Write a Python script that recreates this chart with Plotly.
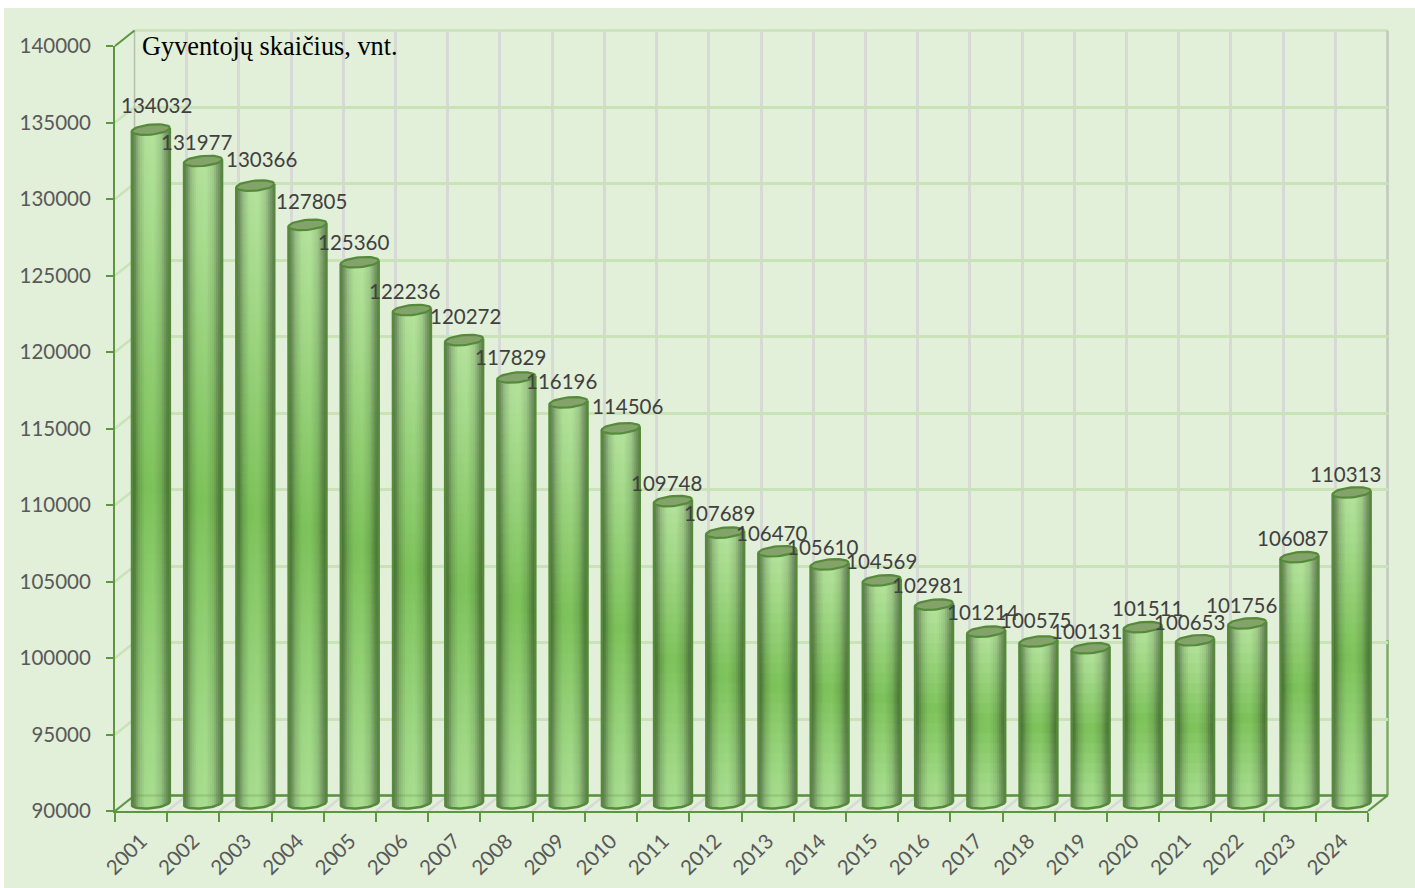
import math
import plotly.graph_objects as go

years = [str(y) for y in range(2001, 2025)]
population = [134032, 131977, 130366, 127805, 125360, 122236, 120272, 117829,
              116196, 114506, 109748, 107689, 106470, 105610, 104569, 102981,
              101214, 100575, 100131, 101511, 100653, 101756, 106087, 110313]
y_ticks = list(range(90000, 140001, 5000))
title_text = "Gyventojų skaičius, vnt."

# hand-placed label offsets from the top of each cylinder (pixels)
LABEL_DX = [6, -7, 6, 4, -6, -7, 1, -6, -7, 7, -6, -6, -6, -7, 0, -6, -4, -3, -4, 5, -6, -6, -7, -6]
LABEL_DY = [25, 19, 27, 24, 20, 19, 24, 20, 21, 22, 18, 20, 18, 17, 19, 20, 20, 21, 17, 19, 18, 18, 19, 18]

W, H = 1415, 888
X0, X1, Y_TOP, Y_BOT = 115.0, 1368.0, 46.0, 811.0     # front plane
DX, DY = 19.5, -15.5                                   # depth offset
CAT = (X1 - X0) / 24
PX_PER_VAL = (Y_BOT - Y_TOP) / 50000
BAR_W = 38.0
R = BAR_W / 2
ELL_B = 5.0
ELL_TILT = 1.7
N_STRIPS = 19
SEG_PX = 10.0

AXIS_GREEN = "#5c9640"
WALL_GREEN = "#c9e2b8"
WALL_GRAY = "#d6d9d6"
BG = "#e2efd9"


def fx(px):
    return px / W


def fy(px):
    return 1 - px / H


def mix(c1, c2, t):
    return [c1[k] + (c2[k] - c1[k]) * t for k in range(3)]


V_STOPS = [(0.0, (166, 218, 142)), (0.12, (158, 214, 132)), (0.47, (124, 192, 90)),
           (0.85, (164, 216, 138)), (1.0, (178, 224, 154))]
U_STOPS = [(-1.0, 0.56), (-0.85, 0.64), (-0.62, 0.86), (-0.3, 1.0), (0.15, 1.02),
           (0.55, 0.90), (0.82, 0.68), (1.0, 0.58)]


def v_color(v):
    for (a, ca), (b, cb) in zip(V_STOPS, V_STOPS[1:]):
        if v <= b:
            return mix(ca, cb, (v - a) / (b - a))
    return list(V_STOPS[-1][1])


def u_mult(u):
    for (a, ca), (b, cb) in zip(U_STOPS, U_STOPS[1:]):
        if u <= b:
            return ca + (cb - ca) * (u - a) / (b - a)
    return U_STOPS[-1][1]


def ell_offset(u, sign):
    """vertical pixel offset (upwards) of ellipse edge at normalised x u."""
    return sign * ELL_B * math.sqrt(max(0.0, 1 - u * u)) + ELL_TILT * u


# ---- cylinder bodies: real bars split into strips and gradient segments.
# Each rectangle slightly overlaps the next one so no seams can appear.
bx, bbase, bh, bw, bo, bc = [], [], [], [], [], []
unit_w = BAR_W / CAT / N_STRIPS
grid_val = SEG_PX / PX_PER_VAL
overlap_val = 1.5 / PX_PER_VAL
for i, val in enumerate(population):
    for s in range(N_STRIPS):
        u = -1 + (s + 0.5) * 2 / N_STRIPS
        low = 90000 + ell_offset(u, -1) / PX_PER_VAL
        high = val + ell_offset(u, 0) / PX_PER_VAL
        m = u_mult(u)
        edges = [low]
        n = math.floor((low - 90000) / grid_val) + 1
        while 90000 + n * grid_val < high:
            edges.append(90000 + n * grid_val)
            n += 1
        edges.append(high)
        for a, b in zip(edges, edges[1:]):
            c = v_color(((a + b) / 2 - 90000) / (val - 90000))
            bx.append(i)
            bbase.append(a)
            bh.append(min(b + overlap_val, high) - a)
            bo.append(u * BAR_W / 2 / CAT - unit_w / 2)
            bw.append(unit_w * (1.6 if s < N_STRIPS - 1 else 1.0))
            bc.append("rgb(%d,%d,%d)" % tuple(min(255, int(x * m)) for x in c))

# ---- top ellipses and silhouette
ex, ey, ox, oy = [], [], [], []
for i, val in enumerate(population):
    for t in range(41):
        a = 2 * math.pi * t / 40
        u = math.cos(a)
        ex.append(i + u * R / CAT)
        ey.append(val + (ELL_B * math.sin(a) + ELL_TILT * u) / PX_PER_VAL)
    ex.append(None)
    ey.append(None)
    ox.append(i - R / CAT)
    oy.append(val - ELL_TILT / PX_PER_VAL)
    for t in range(21):
        a = math.pi * t / 20
        u = -math.cos(a)
        ox.append(i + u * R / CAT)
        oy.append(90000 + (-ELL_B * math.sin(a) + ELL_TILT * u) / PX_PER_VAL)
    ox.append(i + R / CAT)
    oy.append(val + ELL_TILT / PX_PER_VAL)
    ox.append(None)
    oy.append(None)

fig = go.Figure()
fig.add_trace(go.Scatter(x=years, y=population, mode="markers", marker=dict(opacity=0),
                         xaxis="x", yaxis="y", hoverinfo="skip", showlegend=False))
fig.add_trace(go.Bar(x=bx, y=bh, base=bbase, width=bw, offset=bo,
                     marker=dict(color=bc, line=dict(width=0)),
                     xaxis="x2", yaxis="y2", hoverinfo="skip", showlegend=False))
fig.add_trace(go.Scatter(x=ox, y=oy, mode="lines", line=dict(color="#558a3a", width=2.5),
                         xaxis="x2", yaxis="y2", hoverinfo="skip", showlegend=False))
fig.add_trace(go.Scatter(x=ex, y=ey, mode="lines", fill="toself", fillcolor="#83a36a",
                         line=dict(color="#558a3a", width=2.2),
                         xaxis="x2", yaxis="y2", hoverinfo="skip", showlegend=False))
fig.add_trace(go.Scatter(x=years, y=population, mode="markers", marker=dict(opacity=0),
                         xaxis="x3", yaxis="y3", hoverinfo="skip", showlegend=False))

shapes = [dict(type="rect", xref="paper", yref="paper", x0=fx(4), x1=1, y0=0, y1=fy(8),
               fillcolor=BG, line=dict(width=0), layer="below")]


def seg(px0, py0, px1, py1, color, width, layer="below"):
    shapes.append(dict(type="line", xref="paper", yref="paper", x0=fx(px0), y0=fy(py0),
                       x1=fx(px1), y1=fy(py1), line=dict(color=color, width=width), layer=layer))


for tv in y_ticks[:-1]:
    py = Y_BOT - (tv - 90000) * PX_PER_VAL
    if tv > 90000:
        seg(X0, py, X0 + DX, py + DY, WALL_GREEN, 2.5)
for i in range(25):
    px = X0 + i * CAT
    seg(px, Y_BOT, px + DX, Y_BOT + DY, WALL_GRAY, 2.5)
seg(X0 + DX, Y_TOP + DY, X1 + DX, Y_TOP + DY, WALL_GREEN, 2.5)
seg(X0 + DX, Y_TOP + DY, X0 + DX, Y_BOT + DY, "#b4bfae", 1.5)
seg(X1 + DX, Y_TOP + DY, X1 + DX, 640, "#c0c8bc", 2.5)
seg(X1 + DX, 640, X1 + DX, Y_BOT + DY, "#7fa86a", 2.5)
seg(X0 + DX, Y_BOT + DY, X1 + DX, Y_BOT + DY, AXIS_GREEN, 2.5)
seg(X0, Y_TOP, X0 + DX, Y_TOP + DY, AXIS_GREEN, 2)
seg(X0, Y_BOT, X0 + DX, Y_BOT + DY, AXIS_GREEN, 2)
seg(X1, Y_BOT, X1 + DX, Y_BOT + DY, AXIS_GREEN, 2)
# the cylinders are glassy: the floor edge shows faintly through them
seg(X0 + DX, Y_BOT + DY, X1 + DX, Y_BOT + DY, "rgba(85,138,58,0.22)", 2.5, layer="above")

annotations = [dict(text=title_text, xref="paper", yref="paper", x=fx(140), y=fy(47),
                    xanchor="left", yanchor="middle", showarrow=False,
                    font=dict(family="Liberation Serif", size=26.3, color="#000000"))]
for i, val in enumerate(population):
    annotations.append(dict(text=str(val), xref="x2", yref="y2", x=i, y=val,
                            xshift=LABEL_DX[i], yshift=LABEL_DY[i],
                            xanchor="center", yanchor="middle", showarrow=False,
                            font=dict(family="Lato", size=20.5, color="#404040")))

tick_font = dict(family="Lato", size=20.5, color="#595959")
hidden = dict(showticklabels=False, ticks="", zeroline=False, showline=False)

layout = dict(
    width=W, height=H, margin=dict(l=0, r=0, t=0, b=0, pad=0, autoexpand=False), autosize=False,
    paper_bgcolor="#ffffff", plot_bgcolor="rgba(0,0,0,0)", showlegend=False,
    barmode="overlay", shapes=shapes, annotations=annotations,
    xaxis=dict(type="category", categoryorder="array", categoryarray=years, tickson="boundaries",
               range=[-0.5, 23.5], domain=[fx(X0 + DX), fx(X1 + DX)], anchor="y",
               showgrid=True, gridcolor=WALL_GRAY, gridwidth=2.5, **hidden),
    yaxis=dict(range=[90000, 140000], domain=[fy(Y_BOT + DY), fy(Y_TOP + DY)], anchor="x",
               tickvals=y_ticks, showgrid=True, gridcolor=WALL_GREEN, gridwidth=2.5, **hidden),
    xaxis2=dict(range=[-0.5, 23.5], domain=[fx(X0 + DX / 2), fx(X1 + DX / 2)], anchor="y2",
                showgrid=False, **hidden),
    yaxis2=dict(range=[89000, 141000],
                domain=[fy(Y_BOT + DY / 2 + 1000 * PX_PER_VAL),
                        fy(Y_TOP + DY / 2 - 1000 * PX_PER_VAL)],
                anchor="x2", showgrid=False, **hidden),
    xaxis3=dict(type="category", categoryorder="array", categoryarray=years, tickson="boundaries",
                range=[-0.5, 23.5], domain=[fx(X0), fx(X1)], anchor="y3", showgrid=False,
                zeroline=False, showline=True, linecolor=AXIS_GREEN, linewidth=2,
                ticks="outside", ticklen=9, tickwidth=2, tickcolor=AXIS_GREEN,
                tickangle=-45, tickfont=tick_font, automargin=False, ticklabelstandoff=8),
    yaxis3=dict(range=[90000, 140000], domain=[fy(Y_BOT), fy(Y_TOP)], anchor="x3",
                tickvals=y_ticks, tickformat="d", showgrid=False, zeroline=False, showline=True,
                linecolor=AXIS_GREEN, linewidth=2, ticks="outside", ticklen=7, tickwidth=2,
                tickcolor=AXIS_GREEN, tickfont=tick_font, ticklabelstandoff=11, automargin=False),
)
fig.update_layout(**layout)
fig.write_html("out.html", post_script="document.body.style.margin='0';",
               config={"displayModeBar": False})
